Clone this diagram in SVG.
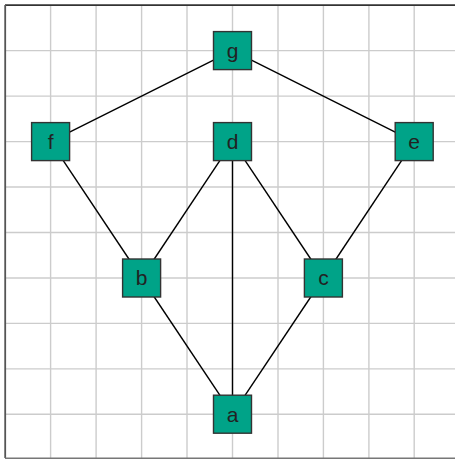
<svg xmlns="http://www.w3.org/2000/svg" width="455" height="459" viewBox="0 0 455 459">
<style>
.grid line{stroke:#cccccc;stroke-width:1.4}
.edges line{stroke:#000;stroke-width:1.4}
.node rect{fill:#00a388;stroke:#333;stroke-width:1.4}
.node text{font-family:"Liberation Sans",Arial,sans-serif;font-size:21px;fill:#222;text-anchor:middle}
</style>
<rect x="0" y="0" width="455" height="459" fill="#fff"/>
<g class="grid">
<line x1="50.6" y1="5" x2="50.6" y2="459"/>
<line x1="96.1" y1="5" x2="96.1" y2="459"/>
<line x1="141.6" y1="5" x2="141.6" y2="459"/>
<line x1="187" y1="5" x2="187" y2="459"/>
<line x1="232.5" y1="5" x2="232.5" y2="459"/>
<line x1="278" y1="5" x2="278" y2="459"/>
<line x1="323.4" y1="5" x2="323.4" y2="459"/>
<line x1="368.9" y1="5" x2="368.9" y2="459"/>
<line x1="414.2" y1="5" x2="414.2" y2="459"/>
<line x1="5" y1="50.6" x2="455" y2="50.6"/>
<line x1="5" y1="96.1" x2="455" y2="96.1"/>
<line x1="5" y1="141.6" x2="455" y2="141.6"/>
<line x1="5" y1="187" x2="455" y2="187"/>
<line x1="5" y1="232.5" x2="455" y2="232.5"/>
<line x1="5" y1="278" x2="455" y2="278"/>
<line x1="5" y1="323.4" x2="455" y2="323.4"/>
<line x1="5" y1="368.9" x2="455" y2="368.9"/>
<line x1="5" y1="414.2" x2="455" y2="414.2"/>
</g>
<g id="frame">
<line x1="5" y1="5.2" x2="455" y2="5.2" stroke="#333" stroke-width="1.8"/>
<line x1="5.2" y1="5" x2="5.2" y2="458" stroke="#555" stroke-width="1.8"/>
<line x1="5" y1="458.2" x2="455" y2="458.2" stroke="#777" stroke-width="1.6"/>
</g>
<g class="edges" id="connectors">
<line x1="232.5" y1="50.6" x2="50.6" y2="141.6"/>
<line x1="232.5" y1="50.6" x2="414.2" y2="141.6"/>
<line x1="50.6" y1="141.6" x2="141.6" y2="278"/>
<line x1="232.5" y1="141.6" x2="141.6" y2="278"/>
<line x1="232.5" y1="141.6" x2="232.5" y2="414.2"/>
<line x1="232.5" y1="141.6" x2="323.4" y2="278"/>
<line x1="414.2" y1="141.6" x2="323.4" y2="278"/>
<line x1="141.6" y1="278" x2="232.5" y2="414.2"/>
<line x1="323.4" y1="278" x2="232.5" y2="414.2"/>
</g>
<g id="node-g" class="node"><rect x="213.5" y="31.6" width="38" height="38"/><text x="232.5" y="58">g</text></g>
<g id="node-f" class="node"><rect x="31.6" y="122.6" width="38" height="38"/><text x="50.6" y="149">f</text></g>
<g id="node-d" class="node"><rect x="213.5" y="122.6" width="38" height="38"/><text x="232.5" y="149">d</text></g>
<g id="node-e" class="node"><rect x="395.2" y="122.6" width="38" height="38"/><text x="414.2" y="149">e</text></g>
<g id="node-b" class="node"><rect x="122.6" y="259" width="38" height="38"/><text x="141.6" y="285.4">b</text></g>
<g id="node-c" class="node"><rect x="304.4" y="259" width="38" height="38"/><text x="323.4" y="285.4">c</text></g>
<g id="node-a" class="node"><rect x="213.5" y="395.2" width="38" height="38"/><text x="232.5" y="421.6">a</text></g>
</svg>
